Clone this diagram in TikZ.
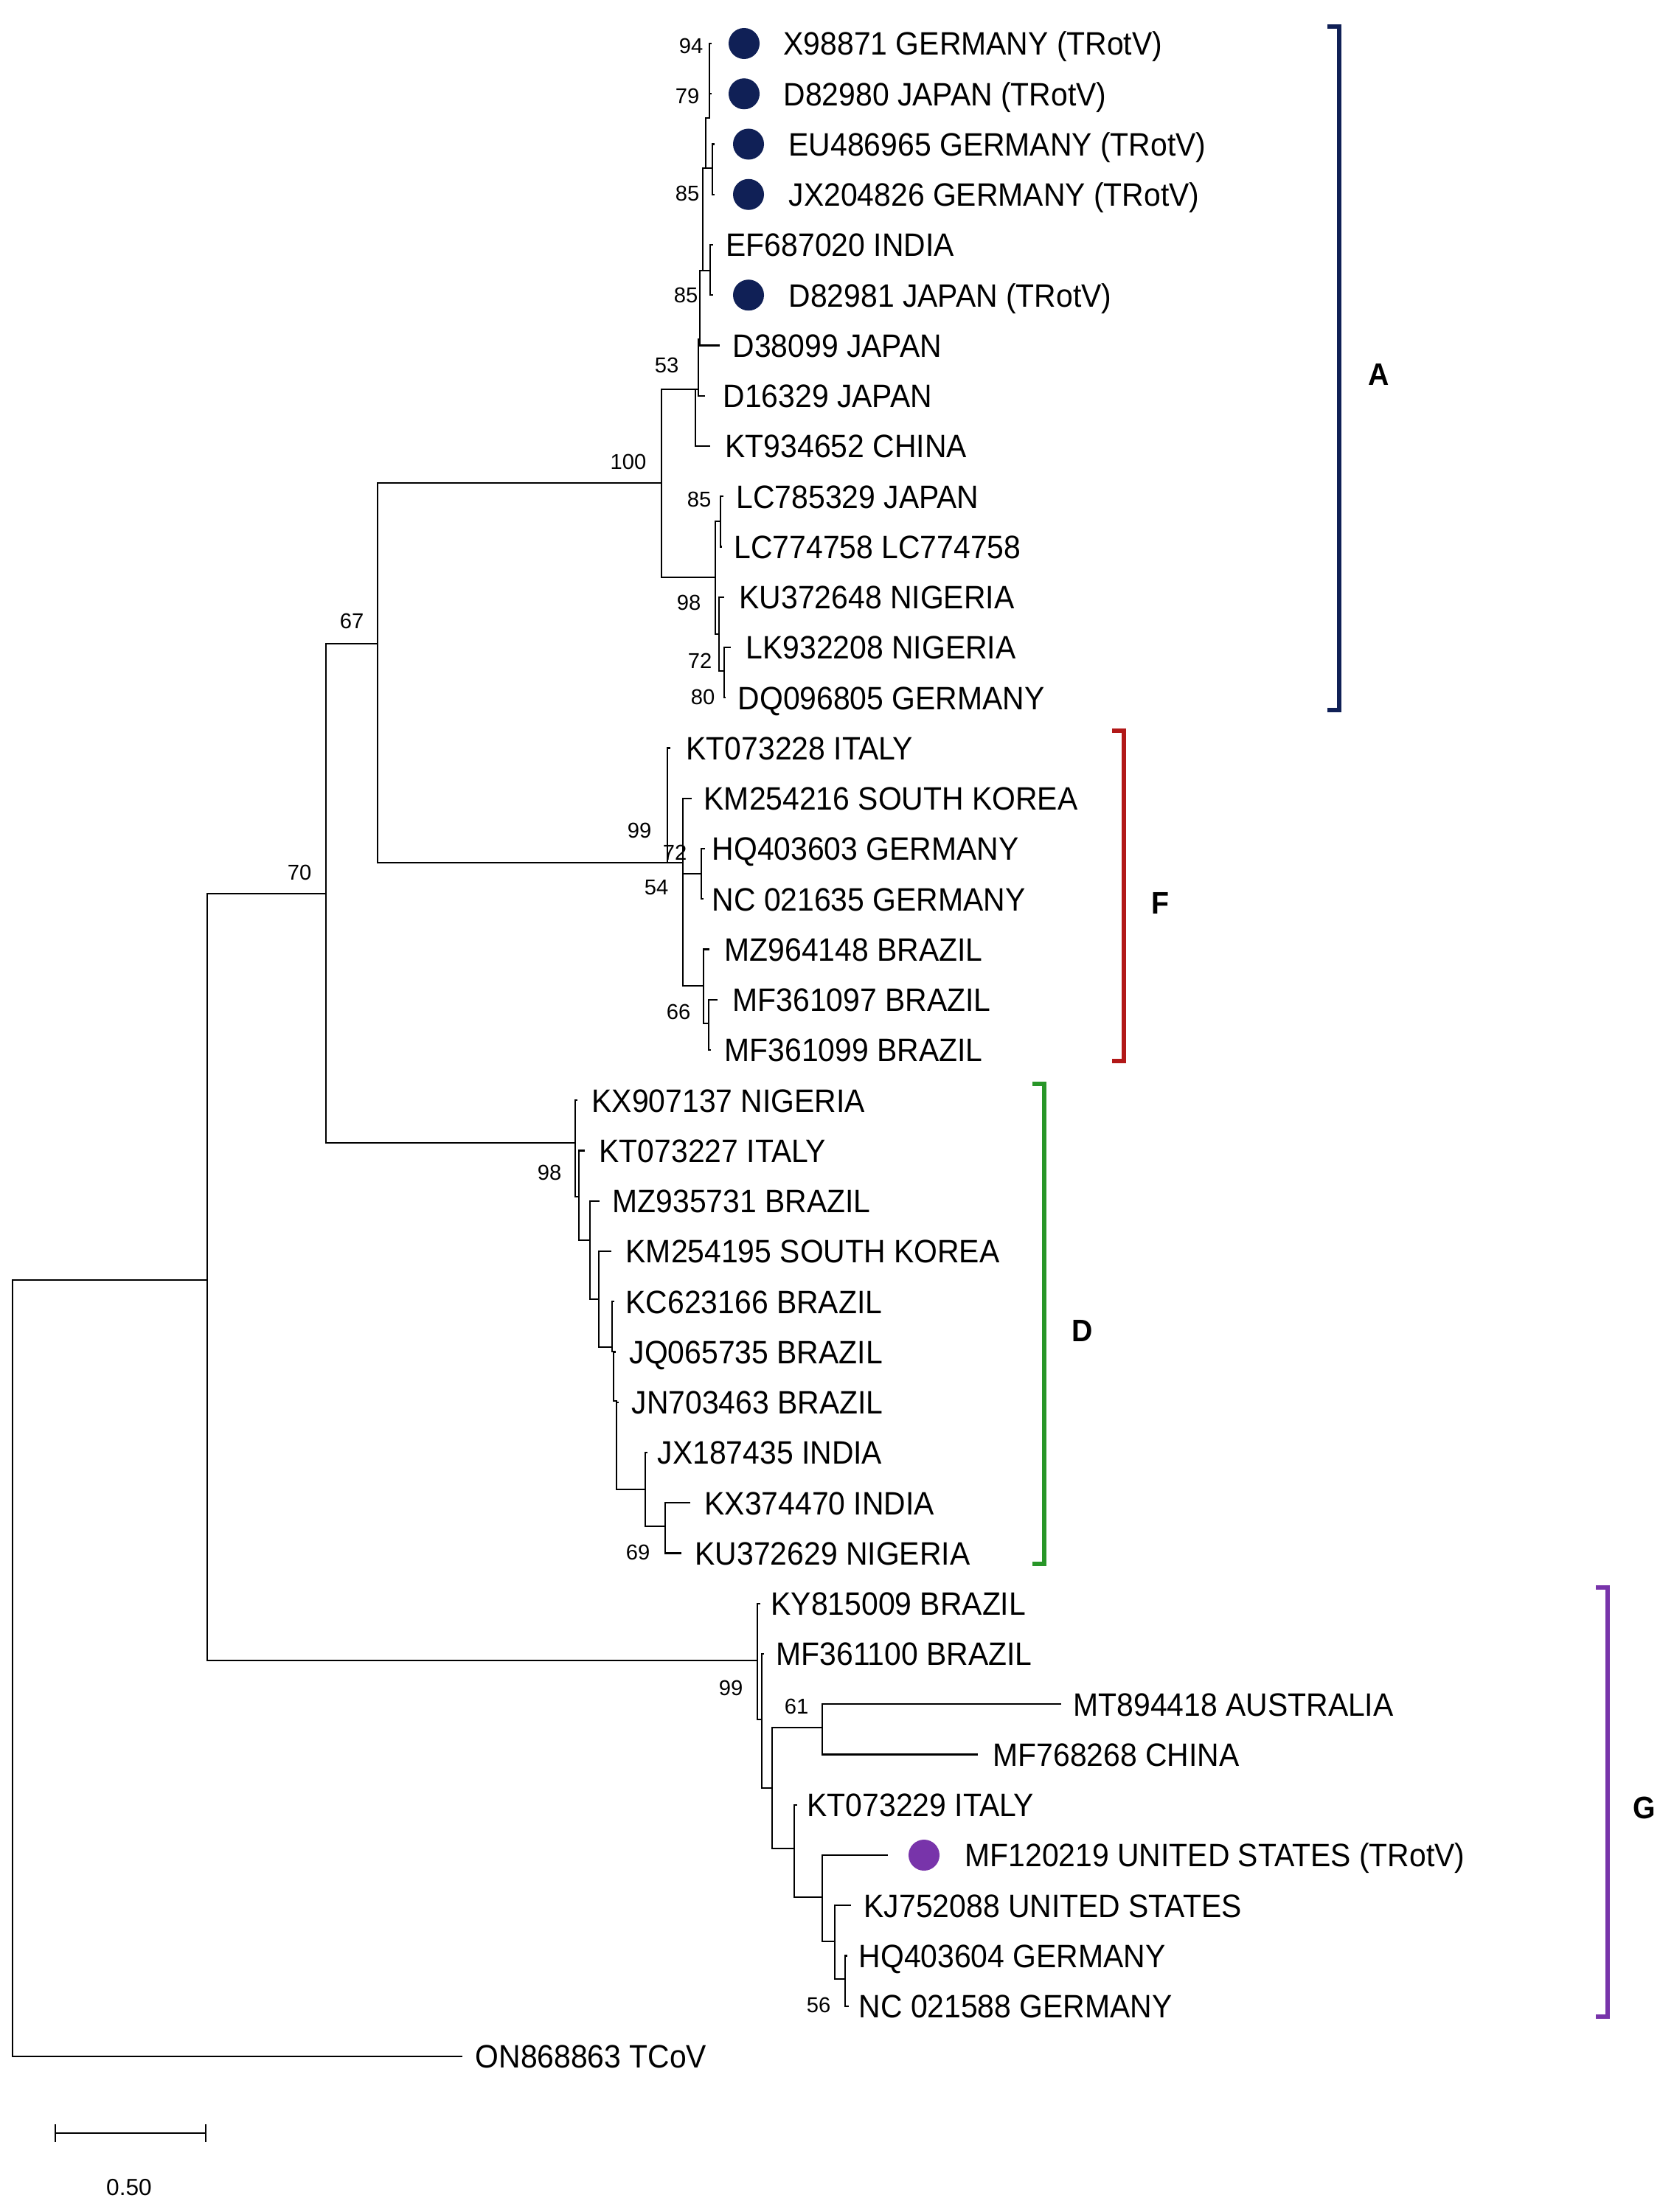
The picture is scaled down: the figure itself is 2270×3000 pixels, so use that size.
\documentclass[tikz,border=0pt]{standalone}
\usepackage{fontspec}
\setmainfont{Liberation Sans}[FakeStretch=0.93]
\newfontfamily\bootfont{Liberation Sans}
\definecolor{cladeA}{RGB}{16,32,86}
\definecolor{cladeF}{RGB}{178,24,24}
\definecolor{cladeD}{RGB}{40,150,40}
\definecolor{cladeG}{RGB}{120,52,170}
\begin{document}
\begin{tikzpicture}[x=0.01cm,y=-0.01cm,
    leaf/.style={anchor=base west,inner sep=0pt,yshift=-4.5pt,font=\fontsize{12.5}{14}\selectfont},
    boot/.style={inner sep=0pt,font=\bootfont\fontsize{8.3}{10}\selectfont},
    branch/.style={line width=0.65pt,line cap=rect},
    tdot/.style={circle,fill=#1,minimum size=0.42cm,inner sep=0pt},
    bracket/.style={line width=1.5pt,#1},
    cladelbl/.style={inner sep=0pt,font=\bfseries\fontsize{12}{14}\selectfont}]
\useasboundingbox (0,0) rectangle (2270,3000);
% hojas: nombre/punta/fila/texto/etiqueta
\foreach \n/\tx/\i/\lx/\lab in {
    X98871/964/0/1062/X98871 GERMANY (TRotV),
    D82980/964/1/1062/D82980 JAPAN (TRotV),
    EU486965/968/2/1069/EU486965 GERMANY (TRotV),
    JX204826/968/3/1069/JX204826 GERMANY (TRotV),
    EF687020/966/4/984/EF687020 INDIA,
    D82981/966/5/1069/D82981 JAPAN (TRotV),
    D38099/975/6/993/D38099 JAPAN,
    D16329/955/7/980/D16329 JAPAN,
    KT934652/962/8/983/KT934652 CHINA,
    LC785329/980/9/998/LC785329 JAPAN,
    LC774758/978/10/995/LC774758 LC774758,
    KU372648/981/11/1002/KU372648 NIGERIA,
    LK932208/990/12/1011/LK932208 NIGERIA,
    DQ096805/983/13/1000/DQ096805 GERMANY,
    KT073228/908/14/930/KT073228 ITALY,
    KM254216/937/15/954/KM254216 SOUTH KOREA,
    HQ403603/955/16/965/HQ403603 GERMANY,
    NC021635/953/17/965/NC 021635 GERMANY,
    MZ964148/961/18/982/MZ964148 BRAZIL,
    MF361097/972/19/993/MF361097 BRAZIL,
    MF361099/963/20/982/MF361099 BRAZIL,
    KX907137/782/21/802/KX907137 NIGERIA,
    KT073227/792/22/812/KT073227 ITALY,
    MZ935731/812/23/830/MZ935731 BRAZIL,
    KM254195/828/24/848/KM254195 SOUTH KOREA,
    KC623166/832/25/848/KC623166 BRAZIL,
    JQ065735/834/26/853/JQ065735 BRAZIL,
    JN703463/838/27/856/JN703463 BRAZIL,
    JX187435/877/28/891/JX187435 INDIA,
    KX374470/935/29/955/KX374470 INDIA,
    KU372629/923/30/942/KU372629 NIGERIA,
    KY815009/1030/31/1045/KY815009 BRAZIL,
    MF361100/1035/32/1052/MF361100 BRAZIL,
    MT894418/1438/33/1455/MT894418 AUSTRALIA,
    MF768268/1325/34/1346/MF768268 CHINA,
    KT073229/1080/35/1094/KT073229 ITALY,
    MF120219/1203/36/1308/MF120219 UNITED STATES (TRotV),
    KJ752088/1153/37/1171/KJ752088 UNITED STATES,
    HQ403604/1148/38/1164/HQ403604 GERMANY,
    NC021588/1150/39/1164/NC 021588 GERMANY,
    ON868863/626/40/644/ON868863 TCoV}
  {
  \coordinate (p\n) at (\tx,{59+68.25*\i});
  \node[leaf] (l\n) at (\lx,{59+68.25*\i}) {\lab};
  }
% nodos internos
\foreach \n/\x/\y in {R/17/2260, N1/281/1736, N2/442/1212, N3/512/873,
    nA/897/655, A1/943/528, A1a/947/528, A1b/949/460, A1c/953/367,
    A1d/957/228, A1f/962/160, A1g/966/228, A1e/963/367,
    A2/970/783, A2a/977/707, A2b/975/860, A2c/982/910,
    nF/905/1170, F1/926/1170, F2/951/1185, F3/954/1337, F4/961/1388,
    nD/780/1550, D1/785/1623, D2/800/1682, D3/812/1762, D4/830/1827,
    D5/832/1833, D6/836/1900, D7/875/2020, D8/902/2070,
    nG/1027/2252, G1/1033/2332, G2/1047/2425, G3/1115/2343,
    G4/1077/2507, G5/1115/2573, G6/1132/2633, G7/1146/2684}
  \coordinate (\n) at (\x,\y);
% ramas
\foreach \p/\c in {R/N1, R/pON868863, N1/N2, N1/nG, N2/N3, N2/nD,
    N3/nA, N3/nF, nA/A1, nA/A2, A1/A1a, A1/pKT934652,
    A1a/A1b, A1a/pD16329, A1b/A1c, A1b/pD38099, A1c/A1d, A1c/A1e,
    A1d/A1f, A1d/A1g, A1f/pX98871, A1f/pD82980,
    A1g/pEU486965, A1g/pJX204826, A1e/pEF687020, A1e/pD82981,
    A2/A2a, A2/A2b, A2a/pLC785329, A2a/pLC774758,
    A2b/pKU372648, A2b/A2c, A2c/pLK932208, A2c/pDQ096805,
    nF/pKT073228, nF/F1, F1/pKM254216, F1/F2, F1/F3,
    F2/pHQ403603, F2/pNC021635, F3/pMZ964148, F3/F4,
    F4/pMF361097, F4/pMF361099,
    nD/pKX907137, nD/D1, D1/pKT073227, D1/D2, D2/pMZ935731, D2/D3,
    D3/pKM254195, D3/D4, D4/pKC623166, D4/D5, D5/pJQ065735, D5/D6,
    D6/pJN703463, D6/D7, D7/pJX187435, D7/D8, D8/pKX374470, D8/pKU372629,
    nG/pKY815009, nG/G1, G1/pMF361100, G1/G2, G2/G3, G2/G4,
    G3/pMT894418, G3/pMF768268, G4/pKT073229, G4/G5,
    G5/pMF120219, G5/G6, G6/pKJ752088, G6/G7,
    G7/pHQ403604, G7/pNC021588}
  \draw[branch] (\p) |- (\c);
% valores bootstrap
\foreach \k/\v/\x/\y in {b1/94/937/62, b2/79/932/130, b3/85/932/262, b4/85/930/400,
    b5/53/904/495, b6/100/852/626, b7/85/948/677, b8/98/934/817,
    b9/72/949/896, b10/80/953/945, b11/67/477/842, b12/99/867/1126,
    b13/72/915/1156, b14/54/890/1204, b15/66/920/1372, b16/70/406/1183,
    b17/98/745/1590, b18/69/865/2105, b19/99/991/2289, b20/61/1080/2314,
    b21/56/1110/2719}
  \node[boot] (\k) at (\x,\y) {\v};
% marcas TRotV
\node[tdot=cladeA] (dX98871) at (1009,59) {};
\node[tdot=cladeA] (dD82980) at (1009,127.25) {};
\node[tdot=cladeA] (dEU486965) at (1015,195.5) {};
\node[tdot=cladeA] (dJX204826) at (1015,263.75) {};
\node[tdot=cladeA] (dD82981) at (1015,400.25) {};
\node[tdot=cladeG] (dMF120219) at (1253,2516) {};
% corchetes de clados
\draw[bracket=cladeA] (1800,36) -- (1816,36) -- (1816,963) -- (1800,963);
\draw[bracket=cladeF] (1508,991) -- (1524,991) -- (1524,1439) -- (1508,1439);
\draw[bracket=cladeD] (1400,1470) -- (1416,1470) -- (1416,2121) -- (1400,2121);
\draw[bracket=cladeG] (2164,2153) -- (2180,2153) -- (2180,2735) -- (2164,2735);
\node[cladelbl] (cA) at (1870,508) {A};
\node[cladelbl] (cF) at (1573,1225) {F};
\node[cladelbl] (cD) at (1468,1805) {D};
\node[cladelbl] (cG) at (2230,2452) {G};
% barra de escala
\coordinate (s1) at (75,2893);
\coordinate (s2) at (279,2893);
\draw[branch] (s1) -- (s2);
\draw[branch] ([yshift=3pt]s1) -- ([yshift=-3pt]s1);
\draw[branch] ([yshift=3pt]s2) -- ([yshift=-3pt]s2);
\node[boot,font=\bootfont\fontsize{9}{10}\selectfont] (sl) at (175,2967) {0.50};
\end{tikzpicture}
\end{document}
